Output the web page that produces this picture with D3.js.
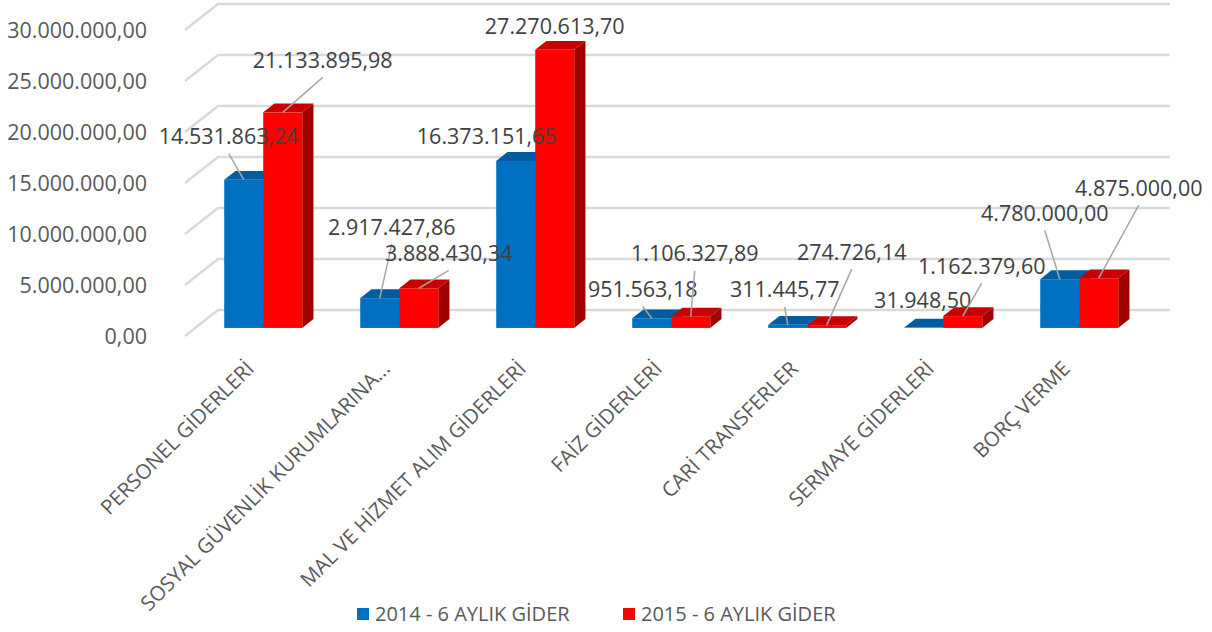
<!DOCTYPE html>
<html>
<head>
<meta charset="utf-8">
<script src="https://cdn.jsdelivr.net/npm/d3@7"></script>
<style>
  body { margin: 0; background: #fff; }
  svg { display: block; font-family: "Open Sans", "Noto Sans", sans-serif; }
</style>
</head>
<body>
<script>
var categories = ["PERSONEL GİDERLERİ", "SOSYAL GÜVENLİK KURUMLARINA...", "MAL VE HİZMET ALIM GİDERLERİ",
    "FAİZ GİDERLERİ", "CARİ TRANSFERLER", "SERMAYE GİDERLERİ", "BORÇ VERME"];
var seriesNames = ["2014 - 6 AYLIK GİDER", "2015 - 6 AYLIK GİDER"];
var values2014 = [14531863.24, 2917427.86, 16373151.65, 951563.18, 311445.77, 31948.50, 4780000.00];
var values2015 = [21133895.98, 3888430.34, 27270613.70, 1106327.89, 274726.14, 1162379.60, 4875000.00];
var yTicks = [0, 5000000, 10000000, 15000000, 20000000, 25000000, 30000000];

// manual label placement (offset from bar top), like excel's dragged labels
var labelOffsets2014 = [[-15, -43], [12, -71], [-29, -24], [-9, -29], [-3, -35], [-1, -27], [-15, -66]];
var labelOffsets2015 = [[40, -52], [30, -35], [0, -23], [4, -63], [25, -73], [19, -50], [40, -90]];

var svgWidth = 1212;
var svgHeight = 632;

// 3d look: full depth of the floor, bars sit between fa and fb
var depthX = 33, depthY = -26;
var fa = 0.31, fb = 0.65;

var colors = [
    { front: "#0070c0", top: "#005c9e", side: "#004f88" },
    { front: "#ff0000", top: "#c80000", side: "#a00000" }
];

var trLocale = d3.formatLocale({ decimal: ",", thousands: ".", grouping: [3], currency: ["", ""] });
var fmt = trLocale.format(",.2f");

var x = d3.scaleBand()
    .domain(categories)
    .range([185, 185 + 952]);

var x1 = d3.scaleBand()
    .domain(seriesNames)
    .range([0, 78]);

var y = d3.scaleLinear()
    .domain([0, 30000000])
    .range([336, 30]);

var svg = d3.select("body")
    .append("svg")
    .attr("width", svgWidth)
    .attr("height", svgHeight);

// side wall + back wall gridlines
var grid = svg.append("g");
grid.selectAll("path")
    .data(yTicks)
    .enter()
    .append("path")
    .attr("d", function (d) {
        var x0 = x.range()[0], x2 = x.range()[1];
        return "M" + x0 + "," + y(d) +
            "L" + (x0 + depthX) + "," + (y(d) + depthY) +
            "L" + (x2 + depthX) + "," + (y(d) + depthY);
    })
    .attr("fill", "none")
    .attr("stroke", "#d9d9d9")
    .attr("stroke-width", 2.5);

// y axis labels
svg.append("g")
    .selectAll("text")
    .data(yTicks)
    .enter()
    .append("text")
    .text(function (d) { return fmt(d); })
    .attr("x", 147)
    .attr("y", function (d) { return y(d); })
    .attr("dy", "0.35em")
    .attr("text-anchor", "end")
    .attr("font-size", "21.5px")
    .attr("fill", "#595959");

// flatten data into bar records
var bars = [];
categories.forEach(function (c, i) {
    [values2014, values2015].forEach(function (vals, s) {
        var offs = s === 0 ? labelOffsets2014 : labelOffsets2015;
        bars.push({ cat: c, s: s, value: vals[i], off: offs[i] });
    });
});

bars.forEach(function (b) {
    var pad = (x.bandwidth() - 78) / 2;
    var w = x1.bandwidth();
    b.x0 = x(b.cat) + pad + x1(seriesNames[b.s]) + depthX * fa;
    b.x1 = b.x0 + w;
    b.yTop = y(b.value) + depthY * fa;
    b.yBot = y(0) + depthY * fa;
    b.dx = depthX * (fb - fa);
    b.dy = depthY * (fb - fa);
    b.cx = b.x0 + w / 2;
});

var barG = svg.append("g");
bars.forEach(function (b) {
    var g = barG.append("g");
    var c = colors[b.s];
    // right side
    g.append("path")
        .attr("d", "M" + b.x1 + "," + b.yBot + "L" + (b.x1 + b.dx) + "," + (b.yBot + b.dy) +
            "L" + (b.x1 + b.dx) + "," + (b.yTop + b.dy) + "L" + b.x1 + "," + b.yTop + "Z")
        .attr("fill", c.side);
    // top
    g.append("path")
        .attr("d", "M" + b.x0 + "," + b.yTop + "L" + b.x1 + "," + b.yTop +
            "L" + (b.x1 + b.dx) + "," + (b.yTop + b.dy) + "L" + (b.x0 + b.dx) + "," + (b.yTop + b.dy) + "Z")
        .attr("fill", c.top);
    // front
    g.append("rect")
        .attr("x", b.x0)
        .attr("y", b.yTop)
        .attr("width", b.x1 - b.x0)
        .attr("height", b.yBot - b.yTop)
        .attr("fill", c.front);
});

// data labels + leader lines
var lab = svg.append("g");
bars.forEach(function (b) {
    var lx = b.cx + b.off[0];
    var ly = b.yTop + b.off[1];
    if (b.off[1] <= -28) {
        lab.append("line")
            .attr("x1", lx)
            .attr("y1", ly + 17)
            .attr("x2", b.cx)
            .attr("y2", b.yTop)
            .attr("stroke", "#a6a6a6")
            .attr("stroke-width", 1.5);
    }
    lab.append("text")
        .text(fmt(b.value))
        .attr("x", lx)
        .attr("y", ly)
        .attr("dy", "0.35em")
        .attr("text-anchor", "middle")
        .attr("font-size", "21.5px")
        .attr("fill", "#404040");
});

// category labels, rotated
svg.append("g")
    .selectAll("text")
    .data(categories)
    .enter()
    .append("text")
    .text(function (d) { return d; })
    .attr("transform", function (d) {
        var cx = x(d) + x.bandwidth() / 2 + depthX * fa;
        return "translate(" + (cx - 8) + ",370) rotate(-45)";
    })
    .attr("text-anchor", "end")
    .attr("font-size", "20.5px")
    .attr("fill", "#595959");

// legend
var legend = svg.append("g");
var legendX = [357, 623];
seriesNames.forEach(function (name, s) {
    legend.append("rect")
        .attr("x", legendX[s])
        .attr("y", 608)
        .attr("width", 12)
        .attr("height", 12)
        .attr("fill", colors[s].front);
    legend.append("text")
        .text(name)
        .attr("x", legendX[s] + 18)
        .attr("y", 621)
        .attr("font-size", "20px")
        .attr("fill", "#595959");
});
</script>
</body>
</html>
